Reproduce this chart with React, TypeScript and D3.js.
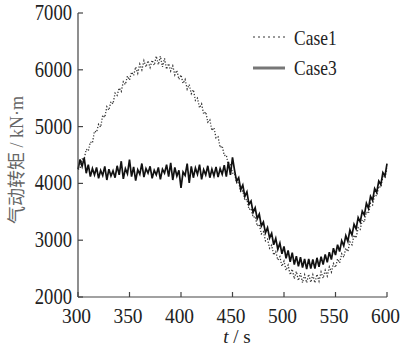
import React from "react";
import * as d3 from "d3";

const T0 = 300;
const DT = 2;
const xTicks = [300, 350, 400, 450, 500, 550, 600];
const yTicks = [2000, 3000, 4000, 5000, 6000, 7000];
const seriesNames = ["Case1", "Case3"];

const case1 = [
  4250, 4260, 4430, 4430, 4600, 4570, 4730, 4710, 4920, 4900,
  5040, 4990, 5200, 5160, 5350, 5290, 5440, 5400, 5590, 5550,
  5680, 5620, 5790, 5740, 5890, 5820, 5960, 5900, 6050, 5940,
  6100, 6000, 6160, 6050, 6160, 6040, 6170, 6080, 6240, 6090,
  6240, 6050, 6200, 6010, 6110, 5980, 6070, 5910, 5990, 5830,
  5910, 5760, 5830, 5660, 5740, 5580, 5650, 5460, 5500, 5330,
  5400, 5220, 5260, 5080, 5120, 4930, 4980, 4800, 4820, 4630,
  4660, 4490, 4500, 4320, 4340, 4180, 4180, 4010, 4030, 3840,
  3870, 3700, 3720, 3540, 3560, 3400, 3420, 3250, 3280, 3110,
  3150, 2990, 3020, 2860, 2910, 2740, 2800, 2650, 2710, 2540,
  2630, 2470, 2560, 2390, 2490, 2320, 2450, 2290, 2420, 2250,
  2390, 2250, 2400, 2260, 2390, 2250, 2400, 2280, 2440, 2330,
  2470, 2370, 2530, 2440, 2590, 2520, 2670, 2600, 2760, 2700,
  2860, 2800, 2970, 2920, 3090, 3040, 3220, 3190, 3360, 3320,
  3500, 3470, 3650, 3620, 3800, 3780, 3950, 3930, 4120, 4100,
  4260,
];

const case3 = [
  4250, 4420, 4300, 4450, 4180, 4330, 4120, 4260, 4150, 4280,
  4090, 4230, 4140, 4300, 4060, 4250, 4130, 4220, 4100, 4310,
  4150, 4390, 4080, 4260, 4170, 4420, 4120, 4290, 4050, 4240,
  4160, 4350, 4110, 4260, 4180, 4300, 4090, 4230, 4150, 4280,
  4070, 4250, 4180, 4330, 4120, 4360, 4060, 4280, 4130, 4230,
  3920, 4200, 4140, 4350, 4010, 4300, 4100, 4270, 4160, 4330,
  4070, 4240, 4150, 4310, 4100, 4250, 4130, 4290, 4110, 4260,
  4160, 4320, 4120, 4380, 4150, 4460, 4230, 4040, 4100, 3890,
  3970, 3770, 3850, 3630, 3690, 3490, 3570, 3380, 3460, 3250,
  3320, 3130, 3220, 3040, 3120, 2920, 3030, 2840, 2950, 2760,
  2890, 2680, 2820, 2620, 2780, 2570, 2720, 2540, 2700, 2520,
  2670, 2490, 2670, 2500, 2660, 2500, 2690, 2530, 2710, 2570,
  2750, 2610, 2790, 2660, 2860, 2740, 2920, 2800, 2990, 2900,
  3080, 2980, 3180, 3090, 3280, 3200, 3400, 3320, 3510, 3440,
  3650, 3560, 3770, 3700, 3910, 3840, 4040, 3980, 4190, 4130,
  4350,
];

const W = 400;
const H = 348;
const serif = "Liberation Serif, Times New Roman, DejaVu Serif, serif";
const cjk = "Liberation Serif, Noto Sans CJK SC, serif";

export default function App() {
  const x = d3.scaleLinear().domain([300, 600]).range([78, 387]);
  const y = d3.scaleLinear().domain([2000, 7000]).range([297, 13]);
  const line = d3
    .line<number>()
    .x((_, i) => x(T0 + i * DT))
    .y((d) => y(d));

  return (
    <svg
      width={W}
      height={H}
      style={{ position: "absolute", left: 0, top: 0, display: "block", background: "#fff" }}
    >
      <path d={line(case1) || ""} fill="none" stroke="#333" strokeWidth={1.3} strokeDasharray="1.2 1.8" />
      <path d={line(case3) || ""} fill="none" stroke="#111" strokeWidth={1.7} />

      <g stroke="#444" strokeWidth={1.2} fill="none">
        <line x1={x(300)} x2={x(300)} y1={y(7000)} y2={y(2000)} />
        <line x1={x(300)} x2={x(600)} y1={y(2000)} y2={y(2000)} />
        {yTicks.map((t) => (
          <line key={"yt" + t} x1={x(300)} x2={x(300) + 5} y1={y(t)} y2={y(t)} />
        ))}
        {xTicks.map((t) => (
          <line key={"xt" + t} x1={x(t)} x2={x(t)} y1={y(2000)} y2={y(2000) - 5} />
        ))}
      </g>

      <g fill="#222">
        {yTicks.map((t) => (
          <text
            key={"yl" + t}
            transform={`translate(72,${y(t) + 7}) scale(0.93,1.12)`}
            textAnchor="end"
            style={{ fontSize: 20, fontFamily: serif }}
          >
            {t}
          </text>
        ))}
        {xTicks.map((t) => (
          <text
            key={"xl" + t}
            transform={`translate(${x(t) - 1.5},323) scale(0.97,1.1)`}
            textAnchor="middle"
            style={{ fontSize: 20, fontFamily: serif }}
          >
            {t}
          </text>
        ))}
        <text
          x={237}
          y={343}
          textAnchor="middle"
          style={{ fontSize: 19, fontFamily: serif }}
        >
          <tspan fontStyle="italic">t</tspan>
          <tspan> / s</tspan>
        </text>
        <text
          transform={`translate(23,160) rotate(-90)`}
          textAnchor="middle"
          fill="#666"
          style={{ fontSize: 18, fontFamily: cjk }}
        >
          气动转矩 / kN·m
        </text>
      </g>

      <g>
        <line x1={253} x2={285} y1={37} y2={37} stroke="#999" strokeWidth={2} strokeDasharray="2 3" />
        <line x1={253} x2={285} y1={68} y2={68} stroke="#777" strokeWidth={3} />
        <g fill="#222">
          <text transform="translate(294,45) scale(0.97,1.12)" style={{ fontSize: 18, fontFamily: serif }}>
            {seriesNames[0]}
          </text>
          <text transform="translate(294,75) scale(0.97,1.12)" style={{ fontSize: 18, fontFamily: serif }}>
            {seriesNames[1]}
          </text>
        </g>
      </g>
    </svg>
  );
}
